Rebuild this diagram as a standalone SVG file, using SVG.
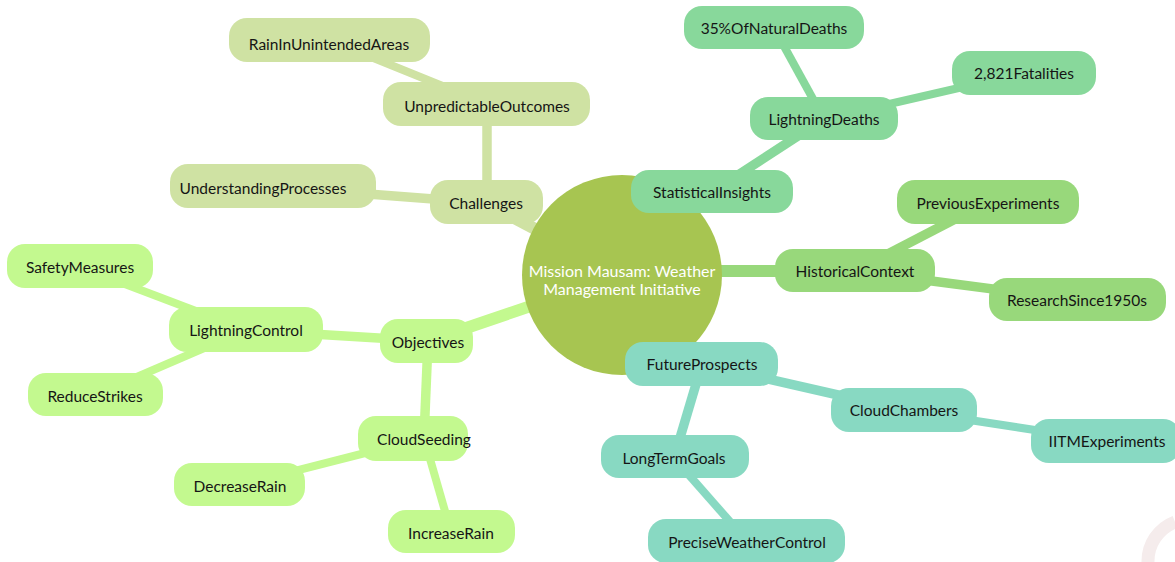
<svg xmlns="http://www.w3.org/2000/svg" width="1175" height="562" viewBox="0 0 1175 562">
<style>
text{font-family:Lato,"Liberation Sans","DejaVu Sans",sans-serif;font-size:15.5px;fill:#151515;text-anchor:middle;dominant-baseline:central}
.c text{fill:#ffffff;font-size:16px}
line{stroke-linecap:butt}
.d1{stroke-width:12}
.d2{stroke-width:9.5}
.d3{stroke-width:8}
.s0 rect{fill:#cfe2a3}.e0{stroke:#cfe2a3}
.s1 rect{fill:#88d89b}.e1{stroke:#88d89b}
.s2 rect{fill:#98d87b}.e2{stroke:#98d87b}
.s3 rect{fill:#88d9c2}.e3{stroke:#88d9c2}
.s4 rect{fill:#c3f98f}.e4{stroke:#c3f98f}
</style>
<path d="M1148 562 A42 42 0 0 1 1175 522" fill="none" stroke="#f5ecec" stroke-width="13"/>
<g id="connectors">
<line class="e0 d1" x1="622" y1="275" x2="486" y2="203"/>
<line class="e0 d2" x1="487" y1="203" x2="487" y2="104"/>
<line class="e0 d3" x1="487" y1="104" x2="329" y2="40"/>
<line class="e0 d2" x1="486" y1="203" x2="263" y2="186"/>
<line class="e1 d1" x1="622" y1="275" x2="712" y2="192"/>
<line class="e1 d2" x1="712" y1="192" x2="824" y2="119"/>
<line class="e1 d3" x1="824" y1="119" x2="774" y2="28"/>
<line class="e1 d3" x1="824" y1="119" x2="1024" y2="73"/>
<line class="e2 d1" x1="622" y1="271" x2="855" y2="271"/>
<line class="e2 d2" x1="855" y1="271" x2="988" y2="202"/>
<line class="e2 d2" x1="855" y1="271" x2="1077" y2="300"/>
<line class="e3 d1" x1="622" y1="275" x2="702" y2="364"/>
<line class="e3 d2" x1="702" y1="364" x2="904" y2="410"/>
<line class="e3 d3" x1="904" y1="410" x2="1107" y2="441"/>
<line class="e3 d2" x1="702" y1="364" x2="674" y2="458"/>
<line class="e3 d3" x1="674" y1="458" x2="747" y2="541"/>
<line class="e4 d1" x1="622" y1="275" x2="428" y2="341"/>
<line class="e4 d2" x1="428" y1="341" x2="246" y2="330"/>
<line class="e4 d3" x1="246" y1="330" x2="80" y2="267"/>
<line class="e4 d3" x1="246" y1="330" x2="95" y2="395"/>
<line class="e4 d2" x1="428" y1="341" x2="424" y2="438"/>
<line class="e4 d3" x1="424" y1="438" x2="240" y2="485"/>
<line class="e4 d3" x1="424" y1="438" x2="451" y2="532"/>
</g>
<g id="root" class="c">
<circle cx="622" cy="275" r="100" fill="#a7c551"/>
<text x="622" y="270">Mission Mausam: Weather</text>
<text x="622" y="288">Management Initiative</text>
</g>
<g id="challenges" class="s0"><rect x="430" y="180" width="113" height="44" rx="18"/><text x="486" y="203">Challenges</text></g>
<g id="unpredictable" class="s0"><rect x="383" y="82" width="207" height="44" rx="18"/><text x="487" y="106">UnpredictableOutcomes</text></g>
<g id="rainunintended" class="s0"><rect x="229" y="18" width="201" height="44" rx="18"/><text x="329" y="44">RainInUnintendedAreas</text></g>
<g id="understanding" class="s0"><rect x="170" y="164" width="206" height="44" rx="18"/><text x="263" y="188">UnderstandingProcesses</text></g>
<g id="statistical" class="s1"><rect x="631" y="170" width="162" height="43" rx="18"/><text x="712" y="192">StatisticalInsights</text></g>
<g id="lightningdeaths" class="s1"><rect x="750" y="97" width="148" height="43" rx="18"/><text x="824" y="119">LightningDeaths</text></g>
<g id="naturaldeaths" class="s1"><rect x="684" y="6" width="180" height="43" rx="18"/><text x="774" y="28">35%OfNaturalDeaths</text></g>
<g id="fatalities" class="s1"><rect x="952" y="51" width="144" height="44" rx="18"/><text x="1024" y="73">2,821Fatalities</text></g>
<g id="historical" class="s2"><rect x="775" y="249" width="160" height="43" rx="18"/><text x="855" y="271">HistoricalContext</text></g>
<g id="previous" class="s2"><rect x="897" y="180" width="182" height="44" rx="18"/><text x="988" y="203">PreviousExperiments</text></g>
<g id="research" class="s2"><rect x="989" y="278" width="177" height="43" rx="18"/><text x="1077" y="300">ResearchSince1950s</text></g>
<g id="future" class="s3"><rect x="625" y="342" width="153" height="44" rx="18"/><text x="702" y="364">FutureProspects</text></g>
<g id="cloudchambers" class="s3"><rect x="831" y="388" width="146" height="44" rx="18"/><text x="904" y="410">CloudChambers</text></g>
<g id="iitm" class="s3"><rect x="1031" y="419" width="150" height="44" rx="18"/><text x="1107" y="441">IITMExperiments</text></g>
<g id="longterm" class="s3"><rect x="601" y="435" width="148" height="43" rx="18"/><text x="674" y="458">LongTermGoals</text></g>
<g id="precise" class="s3"><rect x="648" y="519" width="197" height="44" rx="18"/><text x="747" y="542">PreciseWeatherControl</text></g>
<g id="objectives" class="s4"><rect x="380" y="319" width="93" height="44" rx="18"/><text x="428" y="342">Objectives</text></g>
<g id="lightningcontrol" class="s4"><rect x="169" y="307" width="154" height="45" rx="18"/><text x="246" y="330">LightningControl</text></g>
<g id="safety" class="s4"><rect x="7" y="244" width="146" height="44" rx="18"/><text x="80" y="267">SafetyMeasures</text></g>
<g id="reduce" class="s4"><rect x="28" y="373" width="135" height="43" rx="18"/><text x="95" y="396">ReduceStrikes</text></g>
<g id="cloudseeding" class="s4"><rect x="358" y="416" width="110" height="45" rx="18"/><text x="424" y="439">CloudSeeding</text></g>
<g id="decrease" class="s4"><rect x="174" y="463" width="131" height="43" rx="18"/><text x="240" y="486">DecreaseRain</text></g>
<g id="increase" class="s4"><rect x="388" y="510" width="127" height="43" rx="18"/><text x="451" y="533">IncreaseRain</text></g>
</svg>
